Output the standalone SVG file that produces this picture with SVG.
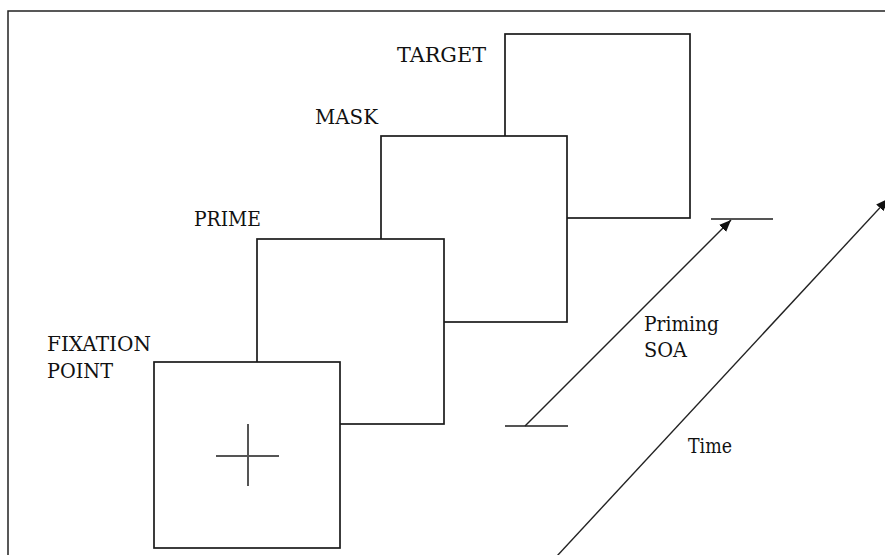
<svg xmlns="http://www.w3.org/2000/svg" width="885" height="555" viewBox="0 0 885 555">
<style>
.box{fill:#fff;stroke:#1a1a1a;stroke-width:1.7}
.lbl{font-family:"DejaVu Serif","Liberation Serif",serif;font-size:19.5px;fill:#111}
.bar{stroke:#555;stroke-width:2;fill:none}
.arr{stroke:#222;stroke-width:1.4;fill:none}
</style>
<defs>
<marker id="ah" viewBox="0 0 12 10" refX="12" refY="5" markerWidth="12" markerHeight="10" markerUnits="userSpaceOnUse" orient="auto">
<path d="M0,0 L12,5 L0,10 Z" fill="#111"/>
</marker>
</defs>
<rect x="0" y="0" width="885" height="555" fill="#fff"/>
<rect id="frame" x="8" y="11" width="900" height="600" fill="none" stroke="#222" stroke-width="1.5"/>
<g id="target">
<rect class="box" x="505" y="34" width="185" height="184"/>
<text class="lbl" x="397" y="61.5" textLength="89" lengthAdjust="spacingAndGlyphs">TARGET</text>
</g>
<g id="mask">
<rect class="box" x="381" y="136" width="186" height="186"/>
<text class="lbl" x="315" y="124" textLength="63" lengthAdjust="spacingAndGlyphs">MASK</text>
</g>
<g id="prime">
<rect class="box" x="257" y="239" width="187" height="185"/>
<text class="lbl" x="194" y="225.5" textLength="67" lengthAdjust="spacingAndGlyphs">PRIME</text>
</g>
<g id="fixation">
<rect class="box" x="154" y="362" width="186" height="186"/>
<line x1="216" y1="456" x2="279" y2="456" stroke="#555" stroke-width="2"/>
<line x1="248" y1="424" x2="248" y2="486" stroke="#555" stroke-width="2"/>
<text class="lbl" x="47" y="350.5" textLength="104" lengthAdjust="spacingAndGlyphs">FIXATION</text>
<text class="lbl" x="47" y="377.5" textLength="66" lengthAdjust="spacingAndGlyphs">POINT</text>
</g>
<g id="connectors">
<line class="bar" x1="505" y1="426" x2="568" y2="426"/>
<line class="bar" x1="711" y1="219" x2="773" y2="219"/>
<line class="arr" x1="525" y1="426" x2="731" y2="220" marker-end="url(#ah)"/>
<line class="arr" x1="557" y1="556" x2="888" y2="199" marker-end="url(#ah)"/>
</g>
<g id="labels">
<text class="lbl" x="644" y="331" textLength="75" lengthAdjust="spacingAndGlyphs">Priming</text>
<text class="lbl" x="644" y="356.5" textLength="43" lengthAdjust="spacingAndGlyphs">SOA</text>
<text class="lbl" x="688" y="453" textLength="44" lengthAdjust="spacingAndGlyphs">Time</text>
</g>
</svg>
